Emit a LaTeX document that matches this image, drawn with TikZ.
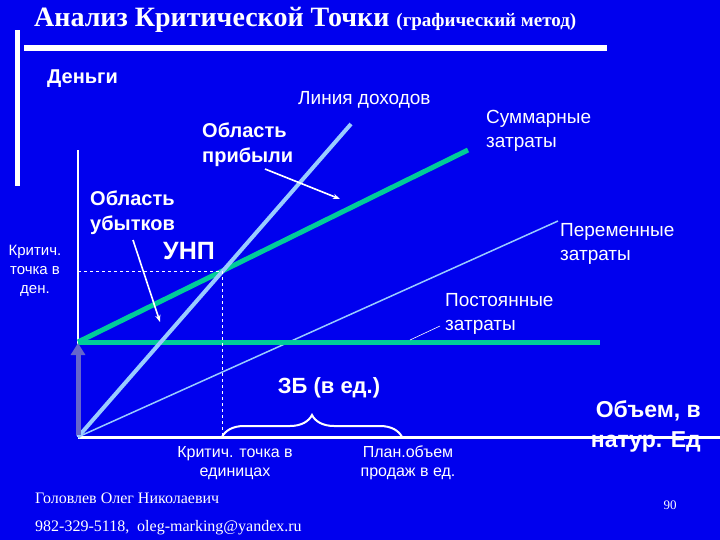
\documentclass[tikz,border=0pt]{standalone}
\usepackage{fontspec}
\setmainfont{Liberation Sans}
\newfontfamily\serifru{Liberation Serif}
\usetikzlibrary{arrows.meta,decorations.pathreplacing}
\definecolor{bg}{HTML}{0000EE}
\definecolor{rev}{HTML}{99CCFF}
\definecolor{grn}{HTML}{00CC99}
\definecolor{pur}{HTML}{6666CC}
\tikzset{lbl/.style={text=white,font=\fontsize{19}{24}\selectfont,align=left,inner sep=0pt},
 blbl/.style={lbl,font=\bfseries\fontsize{20}{25}\selectfont},
 slbl/.style={text=white,font=\fontsize{16}{19}\selectfont,align=center,inner sep=0pt},
 ptr/.style={white,line width=1.6pt,-{Stealth[length=7pt]}}}
\begin{document}
\begin{tikzpicture}[x=1pt,y=-1pt]
\fill[bg] (0,0) rectangle (720,540);
\useasboundingbox (0,0) rectangle (720,540);
\node[anchor=west,text=white,inner sep=0pt] (title) at (34,20) {\serifru\bfseries\fontsize{28}{30}\selectfont Анализ Критической Точки \fontsize{19}{21}\selectfont(графический метод)};
\fill[white] (15,30) rectangle (20,186);
\fill[white] (24,45) rectangle (607,51);
\node[anchor=west,blbl] (money) at (47,79) {Деньги};
% axes
\coordinate (O) at (78,437);
\coordinate (Ytop) at (78,150);
\coordinate (Xend) at (720,437);
\draw[white,line width=2pt] (O) -- (Ytop);
\draw[white,line width=3pt] (O) -- (Xend);
% lines
\coordinate (F0) at (78,342);
\coordinate (F1) at (600,342);
\coordinate (T1) at (468,150);
\coordinate (R1) at (351,124);
\coordinate (V1) at (558,221);
\coordinate (U) at (222,271);
\draw[rev,line width=1.5pt] (O) -- (V1);
\draw[grn,line width=5pt] (F0) -- (F1);
\draw[grn,line width=5pt] (F0) -- (T1);
\draw[rev,line width=4pt] (O) -- (R1);
\draw[white,dashed,line width=0.7pt] (78,271) -- (U) -- (222,437);
\draw[pur,line width=5pt,-{Triangle[length=12pt,width=14pt]}] (78,435) -- (78,343);
% labels
\node[anchor=west,lbl] (inc) at (298,100) {Линия доходов};
\node[anchor=west,lbl] (sum) at (486,131) {Суммарные\\затраты};
\node[anchor=west,blbl] (prof) at (202,145) {Область\\прибыли};
\node[anchor=west,blbl] (loss) at (90,213) {Область\\убытков};
\node[blbl,font=\bfseries\fontsize{25}{27}\selectfont] (unp) at (189,251) {УНП};
\node[anchor=west,lbl] (var) at (560,244) {Переменные\\затраты};
\node[anchor=west,lbl] (fix) at (445,314) {Постоянные\\затраты};
\coordinate (fixp) at (410,340);
\draw[white,line width=0.6pt] (fixp) -- (440,326);
\node[slbl,font=\fontsize{15}{19}\selectfont] (crd) at (35,271) {Критич.\\точка в\\ден.};
\draw[ptr] (265,169) -- (340,199);
\draw[ptr] (133,240) -- (160,322);
% brace
\draw[white,line width=2pt,decorate,decoration={brace,amplitude=22pt}] (222,437) -- (402,437);
\node[blbl,font=\bfseries\fontsize{22}{24}\selectfont] (zb) at (329,388) {ЗБ (в ед.)};
\node[slbl] (cru) at (235,463) {Критич. точка в\\единицах};
\node[slbl] (plan) at (408,463) {План.объем\\продаж в ед.};
\node[blbl,font=\bfseries\fontsize{23}{30}\selectfont,align=right,anchor=east] (vol) at (701,426) {Объем, в\\натур. Ед};
\node[anchor=west,text=white,inner sep=0pt] (auth) at (35,498) {\serifru\fontsize{16}{18}\selectfont Головлев Олег Николаевич};
\node[anchor=west,text=white,inner sep=0pt] (tel) at (35,528) {\serifru\fontsize{16}{18}\selectfont 982-329-5118,\ \ oleg-marking@yandex.ru};
\node[text=white,inner sep=0pt] (pg) at (670,505) {\serifru\fontsize{13}{15}\selectfont 90};
\end{tikzpicture}
\end{document}
